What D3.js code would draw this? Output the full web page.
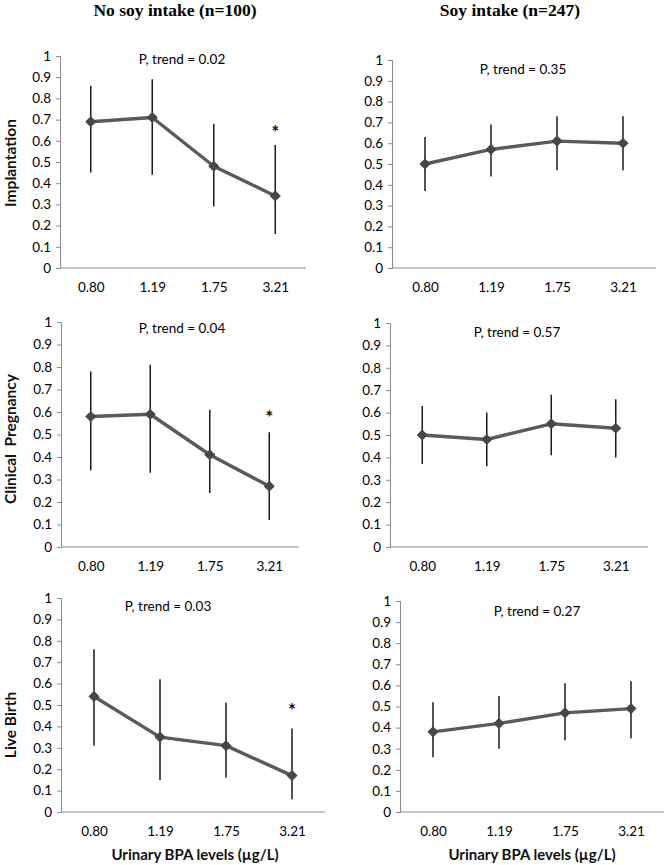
<!DOCTYPE html>
<html><head><meta charset="utf-8">
<script src="https://cdn.jsdelivr.net/npm/d3@7"></script>
<style>body{margin:0;background:#fff}</style>
</head><body><svg id="c" width="667" height="865"></svg>
<script>
// ---- data ----
const categories = ["0.80", "1.19", "1.75", "3.21"];
const yTickValues = [0, 0.1, 0.2, 0.3, 0.4, 0.5, 0.6, 0.7, 0.8, 0.9, 1];
const columnTitles = ["No soy intake (n=100)", "Soy intake (n=247)"];
const rowLabels = ["Implantation", "Clinical  Pregnancy", "Live Birth"];
const xAxisTitle = "Urinary BPA levels (\u00b5g/L)";

const noSoyImplantation = [0.69, 0.71, 0.48, 0.34];
const noSoyImplantationLow = [0.45, 0.44, 0.29, 0.16];
const noSoyImplantationHigh = [0.86, 0.89, 0.68, 0.58];
const soyImplantation = [0.50, 0.57, 0.61, 0.60];
const soyImplantationLow = [0.37, 0.44, 0.47, 0.47];
const soyImplantationHigh = [0.63, 0.69, 0.73, 0.73];

const noSoyPregnancy = [0.58, 0.59, 0.41, 0.27];
const noSoyPregnancyLow = [0.34, 0.33, 0.24, 0.12];
const noSoyPregnancyHigh = [0.78, 0.81, 0.61, 0.51];
const soyPregnancy = [0.50, 0.48, 0.55, 0.53];
const soyPregnancyLow = [0.37, 0.36, 0.41, 0.40];
const soyPregnancyHigh = [0.63, 0.60, 0.68, 0.66];

const noSoyLiveBirth = [0.54, 0.35, 0.31, 0.17];
const noSoyLiveBirthLow = [0.31, 0.15, 0.16, 0.06];
const noSoyLiveBirthHigh = [0.76, 0.62, 0.51, 0.39];
const soyLiveBirth = [0.38, 0.42, 0.47, 0.49];
const soyLiveBirthLow = [0.26, 0.30, 0.34, 0.35];
const soyLiveBirthHigh = [0.52, 0.55, 0.61, 0.62];

const pTrends = ["0.02", "0.35", "0.04", "0.57", "0.03", "0.27"];
const starValues = [0.655, null, 0.59, null, 0.49, null]; // asterisk above last category

// ---- layout (pixel geometry of each panel) ----
const layout = [
  {x0: 60,  x1: 306, yTop: 56,  yBot: 268, px: 182, py: 64},
  {x0: 392, x1: 656, yTop: 60,  yBot: 268, px: 523, py: 74},
  {x0: 61,  x1: 299, yTop: 322, yBot: 547, px: 182, py: 333},
  {x0: 390, x1: 648, yTop: 323, yBot: 547, px: 517, py: 337},
  {x0: 61,  x1: 325, yTop: 598, yBot: 812, px: 168, py: 611},
  {x0: 400, x1: 664, yTop: 601, yBot: 812, px: 537, py: 616}
];
const series = [
  [noSoyImplantation, noSoyImplantationLow, noSoyImplantationHigh],
  [soyImplantation, soyImplantationLow, soyImplantationHigh],
  [noSoyPregnancy, noSoyPregnancyLow, noSoyPregnancyHigh],
  [soyPregnancy, soyPregnancyLow, soyPregnancyHigh],
  [noSoyLiveBirth, noSoyLiveBirthLow, noSoyLiveBirthHigh],
  [soyLiveBirth, soyLiveBirthLow, soyLiveBirthHigh]
];

const svg = d3.select("#c");
const sans = "Lato, 'Open Sans', sans-serif";

// column titles
svg.selectAll("text.coltitle").data(columnTitles).join("text")
  .attr("class", "coltitle")
  .attr("x", (d, i) => i === 0 ? 175 : 510)
  .attr("y", 16)
  .attr("text-anchor", "middle")
  .attr("font-family", "'Liberation Serif', 'Times New Roman', serif")
  .attr("font-weight", "bold")
  .attr("font-size", 17.5)
  .attr("fill", "#000")
  .text(d => d);

// row labels
const rowCenters = [163, 439, 725];
rowLabels.forEach((lab, i) => {
  svg.append("text")
    .attr("transform", `translate(16,${rowCenters[i]}) rotate(-90)`)
    .attr("text-anchor", "middle")
    .attr("font-family", sans)
    .attr("font-weight", "bold")
    .attr("font-size", 15.5)
    .attr("fill", "#111")
    .style("white-space", "pre")
    .text(lab);
});

series.forEach((s, i) => {
  const L = layout[i];
  const [vals, lows, highs] = s;
  const x = d3.scalePoint().domain(categories).range([L.x0, L.x1]).padding(0.5);
  const y = d3.scaleLinear().domain([0, 1]).range([L.yBot, L.yTop]);
  const g = svg.append("g");

  // y axis
  const ya = g.append("g").attr("transform", `translate(${L.x0},0)`)
    .call(d3.axisLeft(y).tickValues(yTickValues).tickSize(4).tickPadding(5)
      .tickFormat(d => d === 0 ? "0" : d === 1 ? "1" : d3.format(".1f")(d)));
  ya.select(".domain").attr("stroke", "#8c8c8c").attr("stroke-width", 1);
  ya.selectAll(".tick line").attr("stroke", "#8c8c8c");
  ya.selectAll(".tick text").attr("font-family", sans).attr("font-size", 13.5).attr("fill", "#000");

  // x axis
  const xa = g.append("g").attr("transform", `translate(0,${L.yBot})`)
    .call(d3.axisBottom(x).tickSize(0).tickPadding(14).tickSizeOuter(0));
  xa.select(".domain").attr("d", `M${L.x0},0H${L.x1}`).attr("stroke", "#8c8c8c");
  xa.selectAll(".tick text").attr("font-family", sans).attr("font-size", 13.5).attr("fill", "#000");

  // error bars
  g.selectAll("line.err").data(categories).join("line")
    .attr("x1", d => x(d)).attr("x2", d => x(d))
    .attr("y1", (d, k) => y(lows[k])).attr("y2", (d, k) => y(highs[k]))
    .attr("stroke", "#1a1a1a").attr("stroke-width", 1.5);

  // line
  g.append("path")
    .datum(vals)
    .attr("d", d3.line().x((d, k) => x(categories[k])).y(d => y(d)))
    .attr("fill", "none").attr("stroke", "#5a5a5a").attr("stroke-width", 3.4)
    .attr("stroke-linejoin", "round");

  // markers
  g.selectAll("path.mk").data(vals).join("path")
    .attr("d", d3.symbol().type(d3.symbolSquare).size(62))
    .attr("transform", (d, k) => `translate(${x(categories[k])},${y(d)}) rotate(45)`)
    .attr("fill", "#474747");

  // p trend
  g.append("text")
    .attr("x", L.px).attr("y", L.py)
    .attr("text-anchor", "middle")
    .attr("font-family", sans).attr("font-size", 13.5).attr("fill", "#000")
    .text("P, trend = " + pTrends[i]);

  // asterisk
  if (starValues[i] !== null) {
    g.append("text")
      .attr("x", x(categories[3])).attr("y", y(starValues[i]) + 10)
      .attr("text-anchor", "middle")
      .attr("font-family", sans).attr("font-weight", "bold").attr("font-size", 19).attr("fill", "#111")
      .text("*");
  }

  // x axis title for bottom row
  if (i >= 4) {
    g.append("text")
      .attr("x", i === 4 ? 195 : 532).attr("y", 860)
      .attr("text-anchor", "middle")
      .attr("font-family", sans).attr("font-weight", "bold").attr("font-size", 15).attr("fill", "#111")
      .text(xAxisTitle);
  }
});
</script></body></html>
